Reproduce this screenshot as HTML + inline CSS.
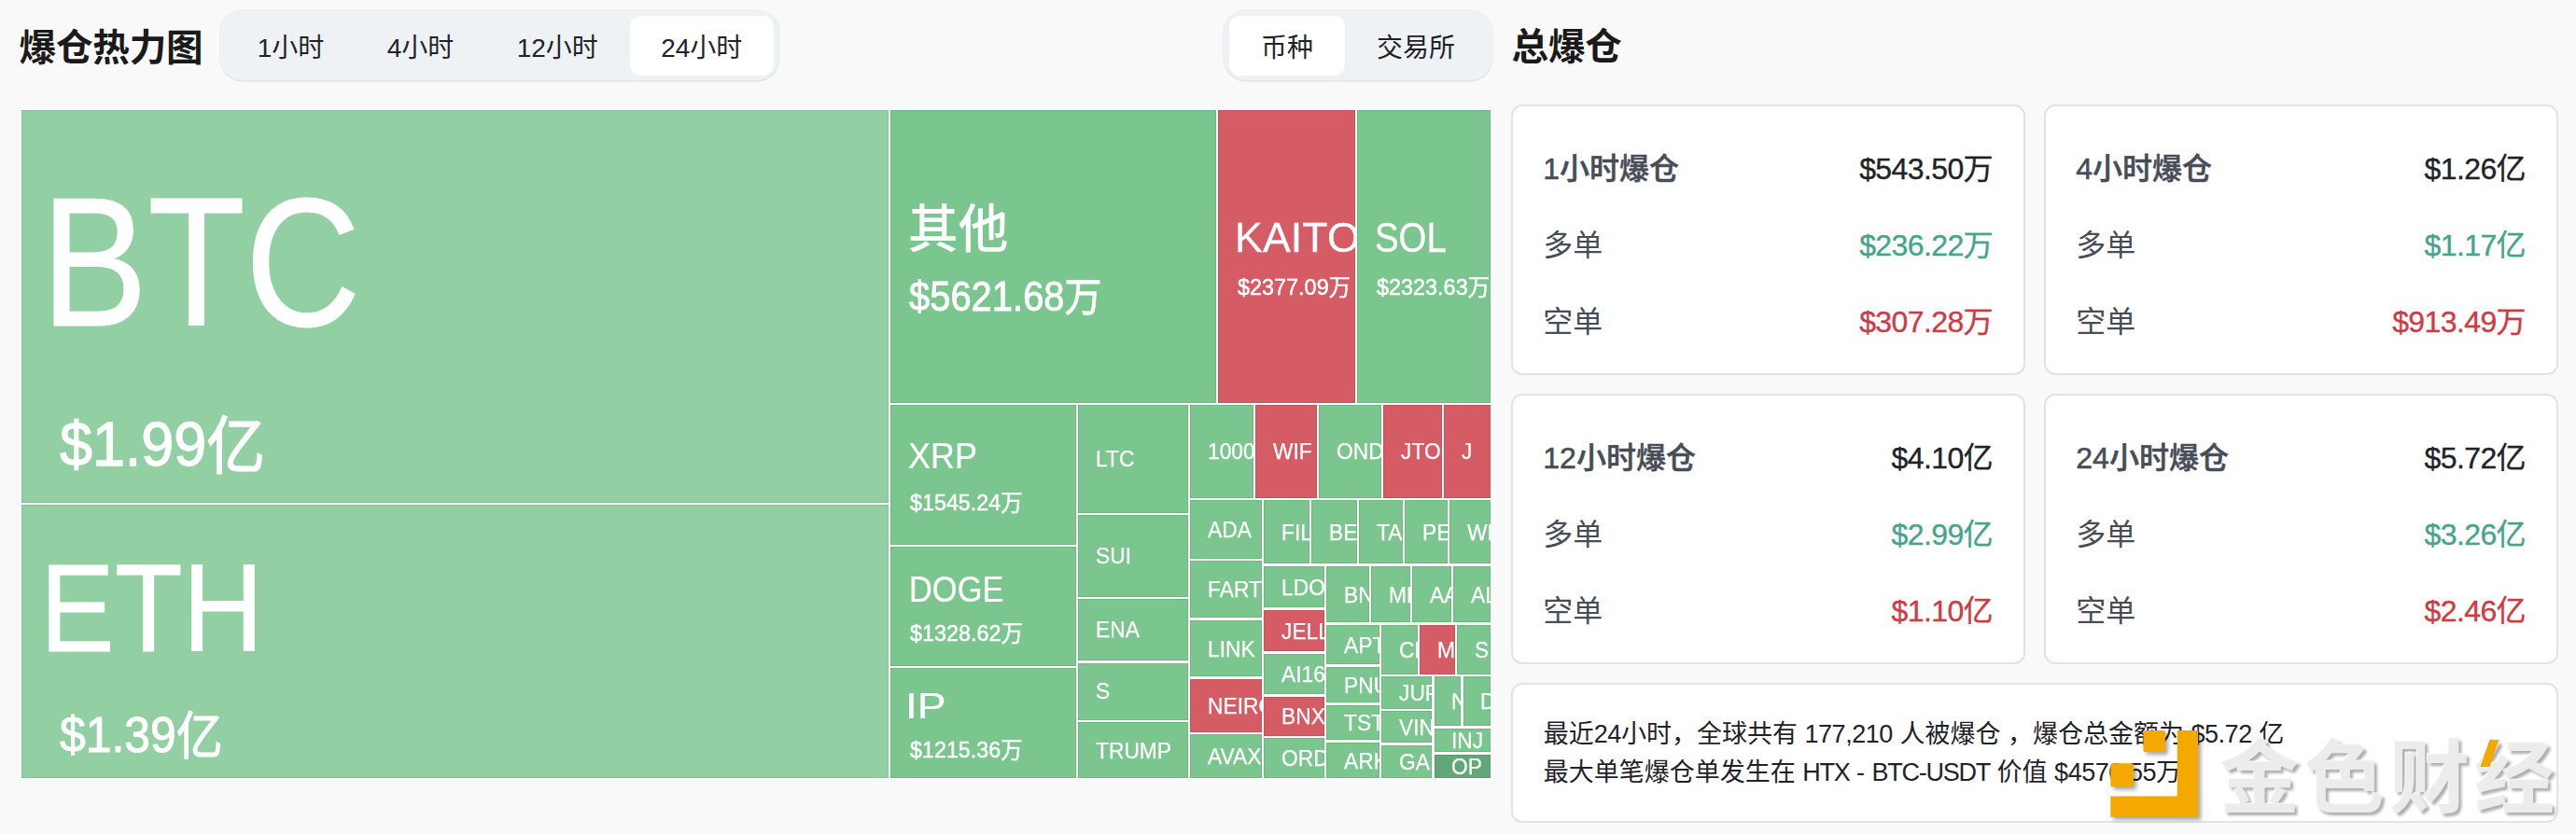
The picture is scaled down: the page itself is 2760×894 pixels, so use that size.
<!DOCTYPE html>
<html lang="zh-CN">
<head>
<meta charset="utf-8">
<title>爆仓热力图</title>
<style>
*{box-sizing:border-box;margin:0;padding:0}
html,body{width:2760px;height:894px;overflow:hidden;background:#f9f9f9}
body{position:relative;font-family:"Liberation Sans","Noto Sans CJK SC",sans-serif;color:#1e2329}
.abs{position:absolute}
h1.title{position:absolute;font-family:"Liberation Sans","Noto Sans CJK SC",sans-serif;font-weight:700;font-size:39.6px;line-height:48px;color:#1a1a1a;white-space:nowrap;letter-spacing:-0.2px}
.tabs{position:absolute;background:#eff2f5;border-radius:24px;box-shadow:0 1.5px 0 #dfe2e6,0 0 0 1px #eceef1;display:flex;padding:6px;height:75px}
.tab{height:64px;line-height:64px;padding:2.8px 0 0;text-align:center;font-size:28px;color:#1e2329;border-radius:12px;white-space:nowrap;margin-top:-0.2px}
.tab.on{background:#fff}
/* treemap */
#tm{position:absolute;left:0;top:0;width:1610px;height:894px}
#tm:before{content:"";position:absolute;left:22px;top:117px;width:1576px;height:718px;background:#fff}
.c{position:absolute;overflow:hidden;background:#7bc68e;color:#fff;white-space:nowrap;box-shadow:inset 0 0 0 1px rgba(0,40,10,.09)}
.c.l{background:#92d0a4}
.c.r{background:#d55c65}
.c.d{background:#62a777}
.c span{position:absolute;left:18.8px;font-size:24px;line-height:28px;transform-origin:0 50%;transform:scaleX(.95);-webkit-text-stroke:.25px #fff}
.c b{font-weight:400;position:absolute;display:block;transform-origin:0 50%;-webkit-text-stroke:.006em #fff}
.c b.v{-webkit-text-stroke:.02em #fff}
.c b.z{font-weight:500;-webkit-text-stroke:0}
.c b i{font-style:normal;position:relative;top:.04em}
/* cards */
.card{position:absolute;background:#fff;border:2px solid #e3e3e3;border-radius:12px}
.row{position:absolute;left:32.3px;right:33px;height:40px;line-height:40px;font-size:32px;white-space:nowrap}
.row .k{position:absolute;left:0;color:#474d57}
.row .v{position:absolute;right:0;color:#1e2329;letter-spacing:-0.6px;-webkit-text-stroke:.35px}
.row.h .k{font-weight:500;-webkit-text-stroke:.55px}
.g{color:#45a48c !important}
.rd{color:#cf3a45 !important}
.info{position:absolute;left:32.8px;top:33.4px;font-size:27px;line-height:40.7px;color:#1e2329;white-space:nowrap}
.info span{letter-spacing:-1.25px}
.info span.d{letter-spacing:-.45px}
.wm{font-family:"Liberation Sans","Noto Sans CJK SC",sans-serif;font-weight:700;font-size:86px;line-height:104px;letter-spacing:5px;color:#ececec;white-space:nowrap;text-shadow:-1px -1px 1px rgba(255,255,255,.9),3px 3px 3px rgba(0,0,0,.32)}
</style>
</head>
<body>
<h1 class="title" style="left:20.6px;top:26.6px">爆仓热力图</h1>
<div class="tabs" style="left:236px;top:11px">
  <div class="tab" style="width:139px">1小时</div><div class="tab" style="width:139px">4小时</div><div class="tab" style="width:154.5px">12小时</div><div class="tab on" style="width:154.5px">24小时</div>
</div>
<div class="tabs" style="left:1311px;top:11px">
  <div class="tab on" style="width:124px">币种</div><div class="tab" style="width:152px">交易所</div>
</div>
<h1 class="title" style="left:1619.6px;top:26.4px">总爆仓</h1>

<div id="tm">
<div class="c l" style="left:23px;top:118px;width:929px;height:421px"><b style="left:21.03px;top:64.4px;font-size:197.4px;line-height:197.4px;transform:scaleX(0.867)">BTC</b><b class="v" style="left:41.06px;top:325.27px;font-size:66.9px;line-height:66.9px;transform:scaleX(0.939)">$1.99<i>亿</i></b></div>
<div class="c l" style="left:23px;top:541px;width:929px;height:293px"><b style="left:20.04px;top:43.55px;font-size:133.2px;line-height:133.2px;transform:scaleX(0.897)">ETH</b><b class="v" style="left:41.08px;top:220.03px;font-size:54.4px;line-height:54.4px;transform:scaleX(0.916)">$1.39<i>亿</i></b></div>
<div class="c " style="left:954px;top:118px;width:349px;height:314px"><b class="z" style="left:18.99px;top:101.3px;font-size:55.3px;line-height:55.3px;transform:scaleX(0.970)">其他</b><b class="v" style="left:19.79px;top:177.57px;font-size:43.7px;line-height:43.7px;transform:scaleX(0.914)">$5621.68<i>万</i></b></div>
<div class="c r" style="left:1305px;top:118px;width:147px;height:314px"><b style="left:17.57px;top:115px;font-size:44.5px;line-height:44.5px;transform:scaleX(1.008)">KAITO</b><b class="v" style="left:20.8px;top:177.91px;font-size:24.6px;line-height:24.6px;transform:scaleX(0.952)">$2377.09<i>万</i></b></div>
<div class="c " style="left:1454px;top:118px;width:143px;height:314px"><b style="left:18.57px;top:115px;font-size:44.5px;line-height:44.5px;transform:scaleX(0.863)">SOL</b><b class="v" style="left:21px;top:177.91px;font-size:24.6px;line-height:24.6px;transform:scaleX(0.952)">$2323.63<i>万</i></b></div>
<div class="c " style="left:954px;top:434px;width:199px;height:150px"><b style="left:19.37px;top:36.4px;font-size:38.7px;line-height:38.7px;transform:scaleX(0.929)">XRP</b><b class="v" style="left:20.5px;top:93.31px;font-size:24.6px;line-height:24.6px;transform:scaleX(0.948)">$1545.24<i>万</i></b></div>
<div class="c " style="left:954px;top:586px;width:199px;height:128px"><b style="left:19.78px;top:25.51px;font-size:39.4px;line-height:39.4px;transform:scaleX(0.874)">DOGE</b><b class="v" style="left:20.6px;top:81.33px;font-size:24.7px;line-height:24.7px;transform:scaleX(0.948)">$1328.62<i>万</i></b></div>
<div class="c " style="left:954px;top:716px;width:199px;height:118px"><b style="left:15.85px;top:20.75px;font-size:39px;line-height:39px;transform:scaleX(1.187)">IP</b><b class="v" style="left:20.6px;top:76.41px;font-size:24.6px;line-height:24.6px;transform:scaleX(0.948)">$1215.36<i>万</i></b></div>
<div class="c " style="left:1155px;top:434px;width:118px;height:116px"><span style="top:44.4px">LTC</span></div>
<div class="c " style="left:1155px;top:552px;width:118px;height:88px"><span style="top:30.4px">SUI</span></div>
<div class="c " style="left:1155px;top:642px;width:118px;height:66px"><span style="top:19.4px">ENA</span></div>
<div class="c " style="left:1155px;top:710.5px;width:118px;height:61.1px"><span style="top:16.95px">S</span></div>
<div class="c " style="left:1155px;top:774.3px;width:118px;height:59.7px"><span style="top:16.25px">TRUMP</span></div>
<div class="c " style="left:1275px;top:434px;width:68px;height:100px"><span style="top:36.4px">1000</span></div>
<div class="c r" style="left:1345px;top:434px;width:66px;height:100px"><span style="top:36.4px">WIF</span></div>
<div class="c " style="left:1413px;top:434px;width:67px;height:100px"><span style="top:36.4px">OND</span></div>
<div class="c r" style="left:1482px;top:434px;width:63px;height:100px"><span style="top:36.4px">JTO</span></div>
<div class="c r" style="left:1547px;top:434px;width:50px;height:100px"><span style="top:36.4px">J</span></div>
<div class="c " style="left:1275px;top:536px;width:77px;height:62.7px"><span style="top:17.75px">ADA</span></div>
<div class="c " style="left:1275px;top:601.3px;width:77px;height:61.2px"><span style="top:17px">FARTC</span></div>
<div class="c " style="left:1275px;top:665.3px;width:77px;height:60px"><span style="top:16.4px">LINK</span></div>
<div class="c r" style="left:1275px;top:728px;width:77px;height:56.6px"><span style="top:14.7px">NEIRO</span></div>
<div class="c " style="left:1275px;top:787.4px;width:77px;height:46.6px"><span style="top:9.7px">AVAX</span></div>
<div class="c " style="left:1354px;top:536px;width:49px;height:68.4px"><span style="top:20.6px">FIL</span></div>
<div class="c " style="left:1405px;top:536px;width:49px;height:68.4px"><span style="top:20.6px">BE</span></div>
<div class="c " style="left:1456px;top:536px;width:47px;height:68.4px"><span style="top:20.6px">TA</span></div>
<div class="c " style="left:1505px;top:536px;width:46px;height:68.4px"><span style="top:20.6px">PE</span></div>
<div class="c " style="left:1553px;top:536px;width:44px;height:68.4px"><span style="top:20.6px">WL</span></div>
<div class="c " style="left:1354px;top:607.3px;width:65px;height:44.2px"><span style="top:8.5px">LDO</span></div>
<div class="c r" style="left:1354px;top:654.4px;width:65px;height:44px"><span style="top:8.4px">JELL</span></div>
<div class="c " style="left:1354px;top:701.3px;width:65px;height:43.2px"><span style="top:8px">AI16</span></div>
<div class="c r" style="left:1354px;top:747.4px;width:65px;height:41.3px"><span style="top:7.05px">BNX</span></div>
<div class="c " style="left:1354px;top:791.2px;width:65px;height:42.8px"><span style="top:7.8px">ORD</span></div>
<div class="c " style="left:1421px;top:607.3px;width:46px;height:60px"><span style="top:16.4px">BN</span></div>
<div class="c " style="left:1469px;top:607.3px;width:42px;height:60px"><span style="top:16.4px">MK</span></div>
<div class="c " style="left:1513px;top:607.3px;width:42px;height:60px"><span style="top:16.4px">AA</span></div>
<div class="c " style="left:1557px;top:607.3px;width:40px;height:60px"><span style="top:16.4px">AL</span></div>
<div class="c " style="left:1421px;top:670.2px;width:56.5px;height:42.1px"><span style="top:7.45px">APT</span></div>
<div class="c " style="left:1421px;top:715.3px;width:56.5px;height:38.2px"><span style="top:5.5px">PNU</span></div>
<div class="c " style="left:1421px;top:756.3px;width:56.5px;height:37.2px"><span style="top:5px">TST</span></div>
<div class="c " style="left:1421px;top:796.4px;width:56.5px;height:37.6px"><span style="top:5.2px">ARK</span></div>
<div class="c " style="left:1480px;top:670.2px;width:39px;height:52.6px"><span style="top:12.7px">CR</span></div>
<div class="c r" style="left:1521.3px;top:670.2px;width:37.7px;height:52.6px"><span style="top:12.7px">M</span></div>
<div class="c " style="left:1561.4px;top:670.2px;width:35.6px;height:52.6px"><span style="top:12.7px">SE</span></div>
<div class="c " style="left:1480px;top:725.3px;width:54px;height:34.3px"><span style="top:3.55px">JUP</span></div>
<div class="c " style="left:1480px;top:762.4px;width:54px;height:34px"><span style="top:3.4px">VIN</span></div>
<div class="c " style="left:1480px;top:799.2px;width:54px;height:34.8px"><span style="top:3.8px">GA</span></div>
<div class="c " style="left:1536.5px;top:725.3px;width:28.5px;height:53.1px"><span style="top:12.95px">N</span></div>
<div class="c " style="left:1567.5px;top:725.3px;width:29.5px;height:53.1px"><span style="top:12.95px">D</span></div>
<div class="c " style="left:1536.5px;top:781.3px;width:60.5px;height:24.3px"><span style="top:-1.45px">INJ</span></div>
<div class="c d" style="left:1536.5px;top:808.5px;width:60.5px;height:25.5px"><span style="top:-0.85px">OP</span></div>
</div>

<div id="cards">
<div class="card" style="left:1619px;top:112px;width:551px;height:290px"><div class="row h" style="top:47.4px"><span class="k">1小时爆仓</span><span class="v ">$543.50万</span></div><div class="row " style="top:129.4px"><span class="k">多单</span><span class="v g">$236.22万</span></div><div class="row " style="top:211.4px"><span class="k">空单</span><span class="v rd">$307.28万</span></div></div>
<div class="card" style="left:2190px;top:112px;width:551px;height:290px"><div class="row h" style="top:47.4px"><span class="k">4小时爆仓</span><span class="v ">$1.26亿</span></div><div class="row " style="top:129.4px"><span class="k">多单</span><span class="v g">$1.17亿</span></div><div class="row " style="top:211.4px"><span class="k">空单</span><span class="v rd">$913.49万</span></div></div>
<div class="card" style="left:1619px;top:422px;width:551px;height:290px"><div class="row h" style="top:47.4px"><span class="k">12小时爆仓</span><span class="v ">$4.10亿</span></div><div class="row " style="top:129.4px"><span class="k">多单</span><span class="v g">$2.99亿</span></div><div class="row " style="top:211.4px"><span class="k">空单</span><span class="v rd">$1.10亿</span></div></div>
<div class="card" style="left:2190px;top:422px;width:551px;height:290px"><div class="row h" style="top:47.4px"><span class="k">24小时爆仓</span><span class="v ">$5.72亿</span></div><div class="row " style="top:129.4px"><span class="k">多单</span><span class="v g">$3.26亿</span></div><div class="row " style="top:211.4px"><span class="k">空单</span><span class="v rd">$2.46亿</span></div></div>
<div class="card" style="left:1619px;top:732px;width:1122px;height:150px"><div class="info">最近<span class="d">24</span>小时，全球共有 <span class="d">177,210</span> 人被爆仓 ，爆仓总金额为 <span class="d">$5.72</span> 亿<br>最大单笔爆仓单发生在 <span>HTX</span> - <span>BTC-USDT</span> 价值 <span class="d">$4570.55</span>万</div></div>
<svg class="abs" style="left:2250px;top:772px;filter:drop-shadow(3px 3px 2px rgba(0,0,0,.35))" width="120" height="116" viewBox="2250 772 120 116"><g fill="#f5a800"><rect x="2332.8" y="783" width="22.3" height="92.8"/><rect x="2261.3" y="853.5" width="93.8" height="22.3"/><rect x="2296.4" y="783" width="23.5" height="23" rx="2"/><rect x="2261.3" y="818.2" width="24.7" height="25.2" rx="2"/></g></svg>
<div class="abs wm" style="left:2378px;top:783px">金色财经</div>
<svg class="abs" style="left:2650px;top:786px" width="36" height="44" viewBox="2650 786 36 44"><polygon fill="#f5a800" points="2667.5,793 2677.5,793 2667.5,822 2657.4,822"/></svg>
</div>
</body>
</html>
